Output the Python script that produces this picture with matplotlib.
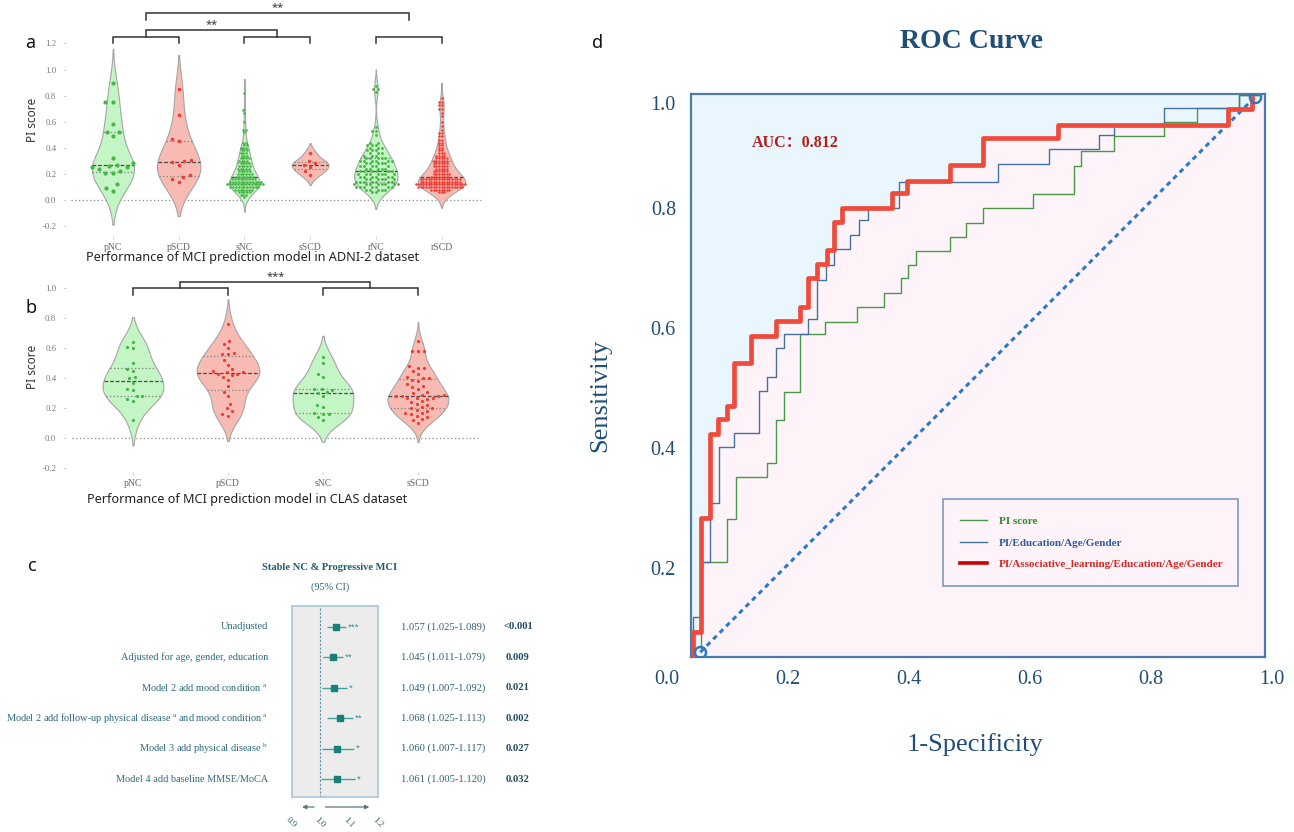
import numpy as np
import matplotlib
matplotlib.use("Agg")
import matplotlib.pyplot as plt
from matplotlib import transforms

plt.rcParams['mathtext.fontset'] = 'custom'
plt.rcParams['mathtext.rm'] = 'Liberation Serif'
plt.rcParams['mathtext.it'] = 'Liberation Serif:italic'
plt.rcParams['mathtext.bf'] = 'Liberation Serif:bold'

SERIF = 'Liberation Serif'
SANS = 'Noto Sans'

# ============================ data ============================
# panel a : ADNI-2 (PI score per subject)
groups_a = ['pNC', 'pSCD', 'sNC', 'sSCD', 'rNC', 'rSCD']
pnc_a = [0.07, 0.09, 0.12, 0.21, 0.21, 0.22, 0.24, 0.25, 0.25, 0.26, 0.27, 0.28,
         0.32, 0.49, 0.52, 0.52, 0.58, 0.75, 0.75, 0.90]
pscd_a = [0.14, 0.16, 0.18, 0.19, 0.27, 0.29, 0.30, 0.31, 0.45, 0.47, 0.65, 0.85]
snc_a_vals = [0.02, 0.04, 0.06, 0.08, 0.10, 0.12, 0.14, 0.16, 0.18, 0.20, 0.22, 0.24,
              0.26, 0.28, 0.30, 0.32, 0.34, 0.36, 0.38, 0.40, 0.42, 0.44, 0.52, 0.54,
              0.60, 0.67, 0.69, 0.82]
snc_a_counts = [1, 3, 5, 7, 11, 14, 12, 9, 7, 6, 5, 5, 5, 4, 4, 4, 3, 3, 3, 3, 2, 2,
                1, 2, 1, 1, 1, 1]
sscd_a = [0.19, 0.22, 0.25, 0.27, 0.28, 0.30, 0.36]
rnc_a_vals = [0.06, 0.08, 0.10, 0.12, 0.14, 0.16, 0.18, 0.20, 0.22, 0.24, 0.26, 0.28,
              0.30, 0.32, 0.34, 0.36, 0.38, 0.40, 0.42, 0.44, 0.50, 0.53, 0.56, 0.83,
              0.85, 0.87]
rnc_a_counts = [2, 5, 7, 8, 7, 6, 6, 7, 6, 5, 5, 5, 6, 5, 3, 3, 3, 3, 3, 2, 1, 2, 1, 1,
                2, 1]
rscd_a_vals = [0.06, 0.08, 0.10, 0.12, 0.14, 0.16, 0.18, 0.20, 0.22, 0.24, 0.26, 0.28,
               0.30, 0.32, 0.34, 0.36, 0.38, 0.40, 0.42, 0.44, 0.46, 0.49, 0.51, 0.54,
               0.57, 0.60, 0.64, 0.67, 0.70, 0.73, 0.75, 0.78]
rscd_a_counts = [3, 8, 18, 20, 16, 16, 8, 7, 6, 5, 6, 6, 6, 5, 4, 3, 2, 2, 2, 2, 2, 2,
                 2, 1, 1, 1, 1, 1, 2, 2, 2, 1]

# panel b : CLAS
groups_b = ['pNC', 'pSCD', 'sNC', 'sSCD']
pnc_b = [0.12, 0.25, 0.26, 0.28, 0.28, 0.32, 0.33, 0.37, 0.40, 0.41, 0.45, 0.46, 0.50,
         0.60, 0.61, 0.64]
pscd_b = [0.15, 0.16, 0.18, 0.20, 0.23, 0.28, 0.31, 0.35, 0.39, 0.41, 0.42, 0.43, 0.43,
          0.44, 0.44, 0.45, 0.46, 0.49, 0.52, 0.56, 0.56, 0.57, 0.60, 0.63, 0.65, 0.76]
snc_b = [0.12, 0.14, 0.16, 0.16, 0.17, 0.21, 0.22, 0.28, 0.30, 0.31, 0.32, 0.33, 0.33,
         0.41, 0.43, 0.50, 0.54]
sscd_b = [0.10, 0.12, 0.13, 0.14, 0.15, 0.16, 0.17, 0.17, 0.18, 0.19, 0.20, 0.20, 0.21,
          0.22, 0.23, 0.24, 0.25, 0.26, 0.27, 0.27, 0.27, 0.28, 0.28, 0.28, 0.29, 0.29,
          0.30, 0.31, 0.33, 0.34, 0.35, 0.36, 0.38, 0.39, 0.40, 0.40, 0.41, 0.43, 0.45,
          0.47, 0.47, 0.48, 0.58, 0.58, 0.58, 0.65]

# significance brackets: (left group, right group, bar height, leg bottom, label)
brackets_a = [(0, 1, 1.249, 1.203, ''), (2, 3, 1.249, 1.203, ''), (4, 5, 1.249, 1.203, ''),
              (0.5, 2.5, 1.303, 1.249, '**'), (0.5, 4.5, 1.437, 1.379, '**')]
brackets_b = [(0, 1, 1.0, 0.955, ''), (2, 3, 1.0, 0.955, ''), (0.5, 2.5, 1.044, 1.0, '***')]

# panel c : forest plot
forest_labels = ['Unadjusted',
                 'Adjusted for age, gender, education',
                 'Model 2 add mood condition $^{\\rm a}$',
                 'Model 2 add follow-up physical disease $^{\\rm a}$ and mood condition $^{\\rm a}$',
                 'Model 3 add physical disease $^{\\rm b}$',
                 'Model 4 add baseline MMSE/MoCA']
or_est = [1.057, 1.045, 1.049, 1.068, 1.060, 1.061]
ci_low = [1.025, 1.011, 1.007, 1.025, 1.007, 1.005]
ci_high = [1.089, 1.079, 1.092, 1.113, 1.117, 1.120]
p_text = ['<0.001', '0.009', '0.021', '0.002', '0.027', '0.032']
sig_stars = ['***', '**', '*', '**', '*', '*']
forest_ticks = [0.9, 1.0, 1.1, 1.2]

# panel d : ROC step curves (corner points, steps-post)
green_fpr = [0.056, 0.056, 0.099, 0.114, 0.165, 0.180, 0.193, 0.220, 0.261, 0.314, 0.358,
             0.387, 0.399, 0.412, 0.468, 0.494, 0.522, 0.605, 0.673, 0.684, 0.739, 0.821,
             0.876, 0.945, 0.977]
green_tpr = [0.060, 0.210, 0.282, 0.352, 0.375, 0.447, 0.493, 0.590, 0.610, 0.635, 0.658,
             0.683, 0.705, 0.728, 0.752, 0.775, 0.800, 0.823, 0.870, 0.895, 0.920, 0.943,
             0.967, 0.988, 0.988]
blue_fpr = [0.043, 0.043, 0.056, 0.071, 0.086, 0.111, 0.152, 0.165, 0.180, 0.193, 0.233,
            0.248, 0.263, 0.276, 0.302, 0.317, 0.332, 0.383, 0.547, 0.631, 0.714, 0.739,
            0.821, 0.945, 0.977]
blue_tpr = [0.052, 0.118, 0.210, 0.308, 0.402, 0.425, 0.495, 0.518, 0.567, 0.590, 0.615,
            0.680, 0.705, 0.732, 0.755, 0.780, 0.800, 0.843, 0.873, 0.898, 0.922, 0.937,
            0.967, 0.988, 0.988]
red_fpr = [0.043, 0.043, 0.056, 0.071, 0.085, 0.099, 0.111, 0.139, 0.180, 0.220, 0.233,
           0.248, 0.264, 0.276, 0.289, 0.372, 0.397, 0.468, 0.522, 0.646, 0.928, 0.967]
red_tpr = [0.052, 0.094, 0.283, 0.423, 0.448, 0.470, 0.542, 0.587, 0.612, 0.635, 0.683,
           0.707, 0.730, 0.777, 0.800, 0.825, 0.845, 0.872, 0.917, 0.938, 0.965, 0.983]
chance_fpr = [0.055, 0.972]
chance_tpr = [0.060, 0.985]
roc_labels = ['PI score', 'PI/Education/Age/Gender',
              'PI/Associative_learning/Education/Age/Gender']
auc_text = 'AUC：0.812'

# ============================ helpers ============================
W, H = 1294, 832
fig = plt.figure(figsize=(W / 100, H / 100), dpi=100)


def box(l, t, r, b):
    return [l / W, 1 - b / H, (r - l) / W, (b - t) / H]


def swarm(vals, d, sx, sy):
    # greedy beeswarm in pixel space, returns x offsets in data units
    vals = np.asarray(vals, float)
    order = np.argsort(vals, kind='stable')
    ys = vals[order] * sy
    xs = np.zeros(len(ys))
    placed = []
    for i, y in enumerate(ys):
        near = [(xp, yp) for xp, yp in placed if abs(yp - y) < d]
        cands = [0.0]
        for xp, yp in near:
            dx = np.sqrt(d * d - (yp - y) ** 2)
            cands += [xp - dx, xp + dx]
        cands.sort(key=abs)
        best = cands[-1]
        for c in cands:
            if all((c - xp) ** 2 + (y - yp) ** 2 >= d * d - 1e-6 for xp, yp in near):
                best = c
                break
        xs[i] = best
        placed.append((best, y))
    out = np.empty(len(ys))
    out[order] = xs / sx
    return out


def violin(ax, pos, vals, maxw, fc, dc, dot_d, gap):
    vals = np.asarray(vals, float)
    h = vals.std(ddof=1) * len(vals) ** -0.2
    grid = np.linspace(vals.min() - 2 * h, vals.max() + 2 * h, 400)
    dens = np.exp(-0.5 * ((grid[:, None] - vals[None, :]) / h) ** 2).sum(1)
    half = dens / dens.max() * maxw
    ax.fill_betweenx(grid, pos - half, pos + half, facecolor=fc, edgecolor='#a5a5a5',
                     lw=0.8, zorder=2)
    q1, med, q3 = np.percentile(vals, [25, 50, 75])
    for q, ls, c in [(q1, (0, (1.2, 1.6)), '#8c8c8c'), (q3, (0, (1.2, 1.6)), '#8c8c8c'),
                     (med, (0, (3, 1.5)), '#4a4a4a')]:
        w = np.interp(q, grid, half)
        ax.plot([pos - w, pos + w], [q, q], ls=ls, color=c, lw=0.9, zorder=3)
    p0 = ax.transData.transform((0, 0))
    p1 = ax.transData.transform((1, 1))
    sx, sy = p1 - p0
    offs = swarm(vals, gap, sx, sy)
    ax.scatter(pos + offs, vals, s=(dot_d * 0.72) ** 2, color=dc, lw=0, zorder=4)


def style_violin_axes(ax, groups, yticks):
    for s in ax.spines.values():
        s.set_visible(False)
    ax.set_xticks(range(len(groups)))
    ax.set_xticklabels(groups, fontfamily=SERIF, fontsize=7, color='#666666')
    ax.set_yticks(yticks)
    ax.set_yticklabels([f'{t:.1f}' for t in yticks], fontfamily=SERIF, fontsize=6.3,
                       color='#777777')
    ax.tick_params(axis='both', length=2, width=0.6, color='#cccccc', pad=3)
    ax.tick_params(axis='y', pad=5)


def draw_brackets(ax, specs, star_dy):
    for l, r, top, bot, lab in specs:
        ax.plot([l, l, r, r], [bot, top, top, bot], color='#333333', lw=1.1,
                solid_joinstyle='miter', zorder=5)
        if lab:
            ax.text((l + r) / 2, top + star_dy, lab, ha='center', va='center',
                    fontsize=8, fontweight='bold', color='#333333', family=SANS)


GREEN_FC, RED_FC = '#c4f5c4', '#f8bbb3'
GREEN_DOT, RED_DOT = '#45b545', '#ee3b33'

# ============================ panel a ============================
ax_a = fig.add_axes(box(66, 0, 482, 236))
ax_a.set_xlim(-0.715, 5.616)
ax_a.set_ylim(-0.276, 1.533)
ax_a.hlines(0, -0.64, 5.616, colors='#8a8a8a', linestyles=(0, (1, 2)), lw=0.9, zorder=0)
data_a = [pnc_a, pscd_a, np.repeat(snc_a_vals, snc_a_counts), sscd_a,
          np.repeat(rnc_a_vals, rnc_a_counts), np.repeat(rscd_a_vals, rscd_a_counts)]
width_a = [0.32, 0.33, 0.23, 0.28, 0.33, 0.36]
dot_a = [4.2, 3.6, 2.6, 3.4, 2.8, 2.5]
gap_a = [7.5, 7.0, 2.8, 6.5, 3.6, 2.6]
for i, vals in enumerate(data_a):
    green = i % 2 == 0
    violin(ax_a, i, vals, width_a[i], GREEN_FC if green else RED_FC,
           GREEN_DOT if green else RED_DOT, dot_a[i], gap_a[i])
style_violin_axes(ax_a, groups_a, np.round(np.arange(-0.2, 1.21, 0.2), 1))
draw_brackets(ax_a, brackets_a, 0.04)

# ============================ panel b ============================
ax_b = fig.add_axes(box(66, 266, 482, 472))
ax_b.set_xlim(-0.705, 3.674)
ax_b.set_ylim(-0.225, 1.149)
ax_b.hlines(0, -0.64, 3.65, colors='#8a8a8a', linestyles=(0, (1, 2)), lw=0.9, zorder=0)
data_b = [pnc_b, pscd_b, snc_b, sscd_b]
width_b = [0.32, 0.33, 0.32, 0.32]
for i, vals in enumerate(data_b):
    green = i % 2 == 0
    violin(ax_b, i, vals, width_b[i], GREEN_FC if green else RED_FC,
           GREEN_DOT if green else RED_DOT, 3.2, 5.8)
style_violin_axes(ax_b, groups_b, np.round(np.arange(-0.2, 1.01, 0.2), 1))
draw_brackets(ax_b, brackets_b, 0.032)

# panel titles / labels for a, b
for (x, y), s in [((30, 43), 'a'), ((31, 308), 'b'), ((32, 566), 'c'), ((598, 43), 'd')]:
    fig.text(x / W, 1 - y / H, s, ha='center', va='center', fontsize=13,
             fontweight='bold', family=SANS, color='#111111')
for y in (120, 367):
    fig.text(33 / W, 1 - y / H, 'PI score', rotation=90, ha='center', va='center',
             fontsize=8.5, family=SANS, color='#333333')
fig.text(253 / W, 1 - 258 / H, 'Performance of MCI prediction model in ADNI-2 dataset',
         ha='center', va='center', fontsize=9.1, family=SANS, color='#222222')
fig.text(247 / W, 1 - 500 / H, 'Performance of MCI prediction model in CLAS dataset',
         ha='center', va='center', fontsize=9.1, family=SANS, color='#222222')

# ============================ panel c ============================
ax_c = fig.add_axes(box(292, 606, 378, 797))
ax_c.set_xlim(0.905, 1.2)
ax_c.set_ylim(5.59, -0.69)
ax_c.set_facecolor('#ececec')
for s in ax_c.spines.values():
    s.set_color('#a9c7da')
    s.set_linewidth(1.2)
ax_c.set_xticks([])
ax_c.set_yticks([])
ax_c.axvline(1.0, color='#5f8fa6', lw=0.8, ls=(0, (2, 1.5)))
rows = np.arange(len(forest_labels))
ax_c.hlines(rows, ci_low, ci_high, color='#3fa59c', lw=1.0, zorder=3)
ax_c.plot(or_est, rows, 's', color='#1b7f78', ms=4.5, zorder=4)
for i in rows:
    ax_c.text(ci_high[i] + 0.006, i, sig_stars[i], ha='left', va='center', fontsize=5,
              color='#2a8a82', family=SANS)

tr_fig_data = transforms.blended_transform_factory(fig.transFigure, ax_c.transData)
for i in rows:
    fig.text(268 / W, i, forest_labels[i], transform=tr_fig_data, ha='right', va='center',
             fontsize=7.4, family=SERIF, color='#2e6a7c')
    fig.text(401 / W, i, f'{or_est[i]:.3f} ({ci_low[i]:.3f}-{ci_high[i]:.3f})',
             transform=tr_fig_data, ha='left', va='center', fontsize=7.6, family=SERIF,
             color='#2e5f75')
    fig.text(518 / W, i, p_text[i], transform=tr_fig_data, ha='center', va='center',
             fontsize=7.6, family=SERIF, fontweight='bold', color='#1f4b64')
fig.text(330 / W, 1 - 567 / H, 'Stable NC & Progressive MCI', ha='center', va='center',
         fontsize=7.6, family=SERIF, fontweight='bold', color='#225b70')
fig.text(330 / W, 1 - 587 / H, '(95% CI)', ha='center', va='center', fontsize=7.4,
         family=SERIF, color='#2e5f75')

tr_data_fig = transforms.blended_transform_factory(ax_c.transData, fig.transFigure)
arrow_kw = dict(arrowstyle='-|>', color='#5b7680', lw=0.9, mutation_scale=6)
ax_c.annotate('', xy=(0.93, 1 - 807 / H), xytext=(0.99, 1 - 807 / H),
              xycoords=tr_data_fig, textcoords=tr_data_fig, arrowprops=arrow_kw,
              annotation_clip=False)
ax_c.annotate('', xy=(1.18, 1 - 807 / H), xytext=(1.01, 1 - 807 / H),
              xycoords=tr_data_fig, textcoords=tr_data_fig, arrowprops=arrow_kw,
              annotation_clip=False)
for t in forest_ticks:
    ax_c.text(t, 1 - 823 / H, f'{t:.1f}', transform=tr_data_fig, ha='center',
              va='center', rotation=-45, fontsize=6.5, family=SERIF, color='#2e5f75',
              clip_on=False)

# ============================ panel d ============================
ROC_BLUE = '#1f4e79'
ax_d = fig.add_axes(box(667, 94, 1272, 657))
ax_d.set_xlim(0, 1)
ax_d.set_ylim(0.052, 0.99)
x_lo, x_hi = 0.04, 0.988
for side in ('left', 'right', 'top', 'bottom'):
    ax_d.spines[side].set_color('#4d7cab')
    ax_d.spines[side].set_linewidth(1.6)
ax_d.spines['left'].set_position(('data', x_lo))
ax_d.spines['right'].set_position(('data', x_hi))
ax_d.spines['top'].set_bounds(x_lo, x_hi)
ax_d.spines['bottom'].set_bounds(x_lo, x_hi)

# background: blue above the best model curve, pink below
fill_x = [x_lo] + red_fpr + [x_hi]
fill_y = [red_tpr[0]] + red_tpr + [red_tpr[-1]]
ax_d.fill_between(fill_x, fill_y, 0.99, step='post', color='#e9f6fd', lw=0, zorder=0)
ax_d.fill_between(fill_x, 0.052, fill_y, step='post', color='#fdf3f9', lw=0, zorder=0)

ax_d.plot(chance_fpr, chance_tpr, color='#2b7bc4', lw=2.2, ls=(0, (1.6, 1.4)), zorder=2)
ax_d.plot(chance_fpr, chance_tpr, ls='none', marker='o', ms=8, mfc='none', mec='#2b7bc4',
          mew=1.8, zorder=6)
ln_g, = ax_d.plot(green_fpr, green_tpr, drawstyle='steps-post', color='#4a9a48', lw=1.0,
                  zorder=3, label=roc_labels[0])
ln_b, = ax_d.plot(blue_fpr, blue_tpr, drawstyle='steps-post', color='#46729f', lw=1.0,
                  zorder=3, label=roc_labels[1])
ln_r, = ax_d.plot(red_fpr, red_tpr, drawstyle='steps-post', color='#f04a3c', lw=3.4,
                  zorder=4, label=roc_labels[2])

ax_d.set_xticks([0, 0.2, 0.4, 0.6, 0.8, 1.0])
ax_d.set_xticklabels(['0.0', '0.2', '0.4', '0.6', '0.8', '1.0'])
ax_d.set_yticks([0.2, 0.4, 0.6, 0.8, 0.975])
ax_d.set_yticklabels(['0.2', '0.4', '0.6', '0.8', '1.0'])
ax_d.tick_params(length=0, labelsize=14.5, labelcolor=ROC_BLUE)
ax_d.tick_params(axis='y', pad=11)
ax_d.tick_params(axis='x', pad=9)
for lab in ax_d.get_xticklabels() + ax_d.get_yticklabels():
    lab.set_family(SERIF)

ax_d.text(0.14, 0.908, auc_text, ha='left', va='center', fontsize=11.5,
          fontweight='bold', color='#b3201c', family=[SERIF, 'Noto Sans CJK SC'])

leg = ax_d.legend(handles=[ln_g, ln_b, ln_r], loc='upper left',
                  bbox_to_anchor=(0.456, 0.172, 0.488, 0.143),
                  bbox_transform=ax_d.transData, mode='expand', frameon=True,
                  prop={'family': SERIF, 'weight': 'bold', 'size': 8},
                  handlelength=2.4, handletextpad=1.1, labelspacing=1.05,
                  borderpad=1.55, borderaxespad=0, fancybox=False)
leg.get_frame().set_edgecolor('#5b86b5')
leg.get_frame().set_facecolor('#fdf3f9')
leg.get_frame().set_linewidth(1.2)
leg.get_lines()[2].set_color('#c40000')
leg.get_lines()[2].set_linewidth(2.6)
for txt, c in zip(leg.get_texts(), ['#2e8a2a', '#2e5e9a', '#d02a26']):
    txt.set_color(c)

fig.text(972 / W, 1 - 42 / H, 'ROC Curve', ha='center', va='center', fontsize=20,
         fontweight='bold', family=SERIF, color=ROC_BLUE)
fig.text(600 / W, 1 - 395 / H, 'Sensitivity', rotation=90, ha='center', va='center',
         fontsize=19, family=SERIF, color=ROC_BLUE)
fig.text(975 / W, 1 - 745 / H, '1-Specificity', ha='center', va='center', fontsize=19,
         family=SERIF, color=ROC_BLUE)

fig.savefig('out.png', dpi=100, facecolor='white')
